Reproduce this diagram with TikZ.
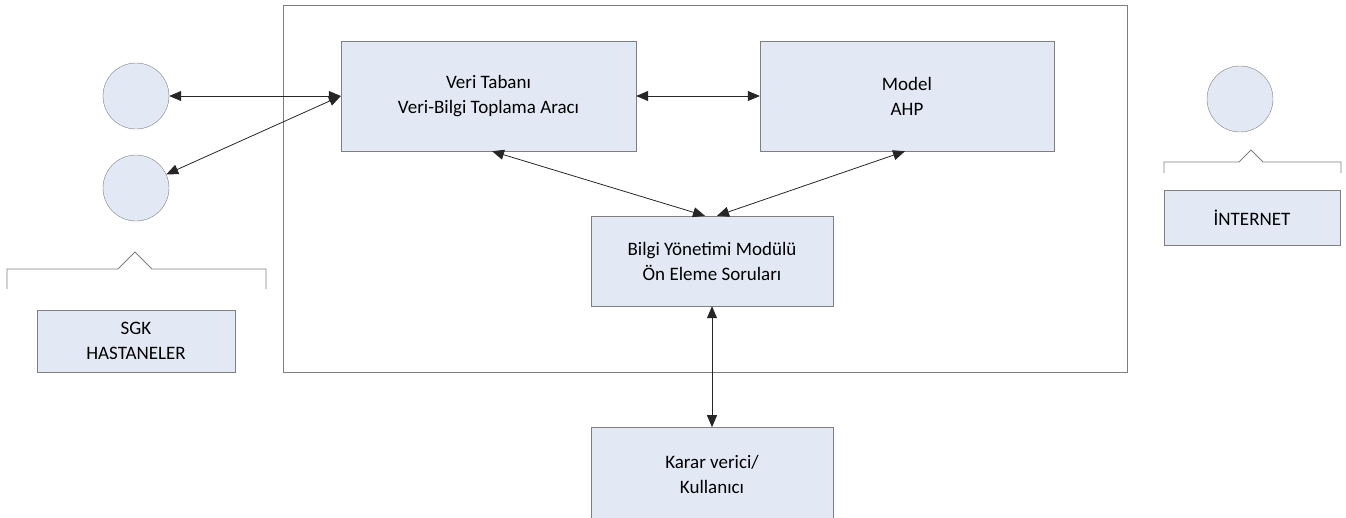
\documentclass[tikz,border=0pt]{standalone}
\usepackage{fontspec}
\setmainfont{Carlito}
\usetikzlibrary{positioning, arrows.meta}
\definecolor{boxfill}{HTML}{E3E9F4}
\definecolor{boxline}{HTML}{7F7F7F}

\begin{document}
\begin{tikzpicture}[
  x=1pt, y=-1pt,
  box/.style={rectangle, draw=boxline, fill=boxfill, align=center,
              inner sep=0pt, font=\fontsize{19}{25}\selectfont},
  site/.style={circle, draw=boxline, fill=boxfill, minimum size=66pt, inner sep=0pt},
  brace/.style={draw=boxline, line width=0.9pt},
  line/.style={draw=black!85, line width=0.8pt, <->,
               >={Triangle[length=12pt,width=10pt]}},
  node distance=1.8cm
]
\useasboundingbox (0,0) rectangle (1346,517);
% Frame
\draw[boxline, line width=0.9pt] (283,5) rectangle (1127,372);
% Nodes
\node[box, minimum width=295pt, minimum height=110pt] (veri) at (488.5,96)
  {Veri Tabanı\\Veri-Bilgi Toplama Aracı};
\node[box, minimum width=294pt, minimum height=110pt] (model) at (907,96)
  {Model\\AHP};
\node[box, minimum width=242pt, minimum height=90pt] (bilgi) at (712,261)
  {Bilgi Yönetimi Modülü\\Ön Eleme Soruları};
\node[box, minimum width=242pt, minimum height=94pt, below=121pt of bilgi] (karar)
  {Karar verici/\\Kullanıcı};
\node[site] (hst1) at (136,96) {};
\node[site] (hst2) at (136,188) {};
\node[site] (net) at (1240,99) {};
\node[box, minimum width=198pt, minimum height=62pt] (sgk) at (136,341)
  {SGK\\HASTANELER};
\node[box, minimum width=176pt, minimum height=55pt] (inet) at (1252,217.5)
  {İNTERNET};
% Braces
\path[brace] (7,289) -- (7,269) -- (118,269) -- (135,252) -- (152,269)
  -- (266,269) -- (266,289);
\path[brace] (1164,173) -- (1164,162) -- (1239,162) -- (1251,150) -- (1263,162)
  -- (1341,162) -- (1341,173);
% Edges
\path[line] (hst1) -- (veri.west);
\path[line] (hst2) -- (veri.west);
\path[line] (veri) -- (model);
\path[line] ([xshift=3.5pt]veri.south) -- ([xshift=-7pt]bilgi.north);
\path[line] ([xshift=-2pt]model.south) -- ([xshift=5pt]bilgi.north);
\path[line] (bilgi) -- (karar);
\end{tikzpicture}
\end{document}
